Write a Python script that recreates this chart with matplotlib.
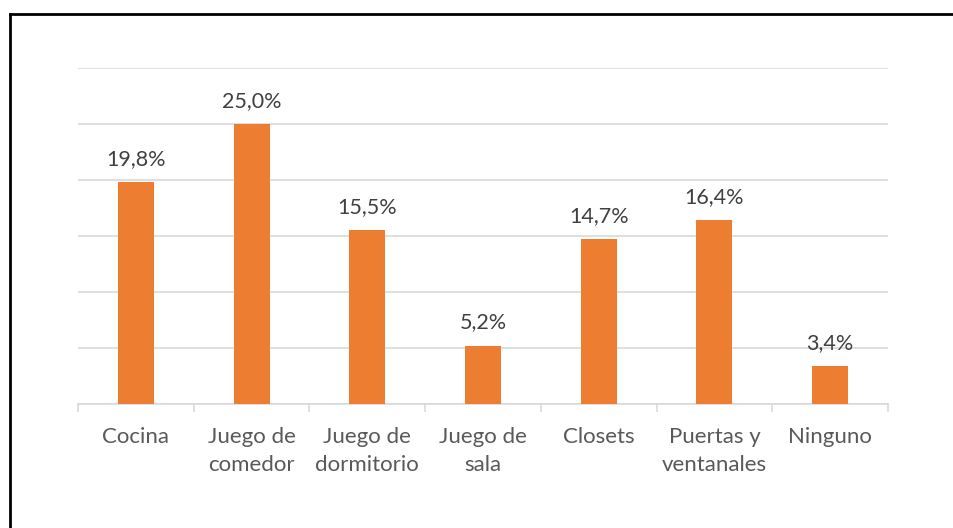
import matplotlib.pyplot as plt
from matplotlib.lines import Line2D

categories = ["Cocina", "Juego de\ncomedor", "Juego de\ndormitorio", "Juego de\nsala",
              "Closets", "Puertas y\nventanales", "Ninguno"]
values = [19.8, 25.0, 15.5, 5.2, 14.7, 16.4, 3.4]
value_labels = ["19,8%", "25,0%", "15,5%", "5,2%", "14,7%", "16,4%", "3,4%"]

plt.rcParams['font.family'] = ['Lato', 'DejaVu Sans']

fig = plt.figure(figsize=(9.54, 5.28), dpi=100)
ax = fig.add_axes([78 / 954, 1 - 404 / 528, 810 / 954, 336 / 528])

x = range(len(categories))
ax.bar(x, values, width=0.31, color='#ED7D31', zorder=3)

for xi, v, lab in zip(x, values, value_labels):
    ax.annotate(lab, (xi, v), xytext=(0, 9.5), textcoords='offset points',
                ha='center', va='bottom', fontsize=15.5, color='#404040')

ax.set_xlim(-0.5, len(categories) - 0.5)
ax.set_ylim(0, 30)
ax.set_yticks(range(0, 31, 5))
ax.yaxis.grid(True, color='#D9D9D9', linewidth=1.2, zorder=0)
ax.tick_params(axis='y', left=False, labelleft=False)

ax.set_xticks([i - 0.5 for i in range(len(categories) + 1)])
ax.set_xticks(list(x), minor=True)
ax.set_xticklabels([])
ax.set_xticklabels(categories, minor=True, fontsize=16, color='#595959', linespacing=1.5)
ax.tick_params(axis='x', which='major', length=6, color='#D9D9D9', width=1.2)
ax.tick_params(axis='x', which='minor', length=0, pad=16.5)

for s in ['top', 'right', 'left']:
    ax.spines[s].set_visible(False)
ax.spines['bottom'].set_color('#D9D9D9')
ax.spines['bottom'].set_linewidth(1.2)

# outer frame (top and left only visible in the reference)
fig.add_artist(Line2D([10 / 954, 1], [1 - 14 / 528, 1 - 14 / 528], color='black', linewidth=2))
fig.add_artist(Line2D([10 / 954, 10 / 954], [0, 1 - 14 / 528], color='black', linewidth=2))

fig.savefig('out.png', dpi=100)
